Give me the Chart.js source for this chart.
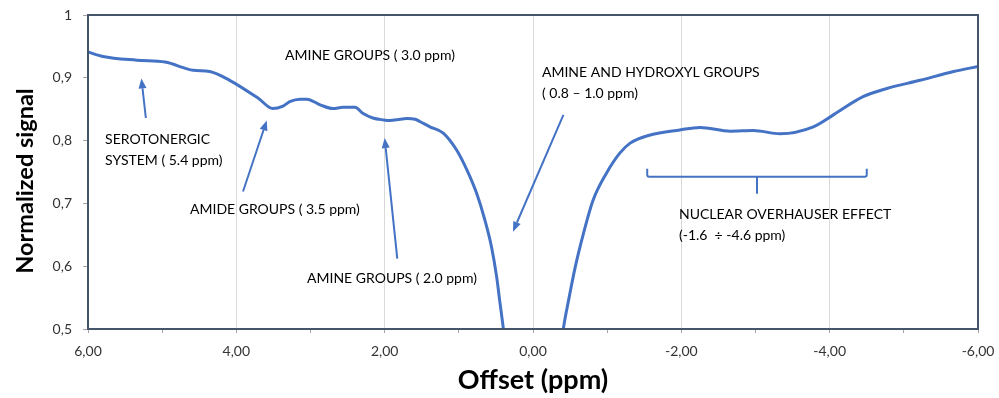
<!DOCTYPE html>
<html>
<head>
<meta charset="utf-8">
<script src="https://cdn.jsdelivr.net/npm/chart.js@4.4.0/dist/chart.umd.min.js"></script>
<style>
  html, body { margin: 0; padding: 0; background: #fff; }
  #wrap { width: 999px; height: 398px; }
</style>
</head>
<body>
<div id="wrap"><canvas id="zChart" width="999" height="398"></canvas></div>
<script>
var offsets = [6.00, 5.80, 5.34, 4.96, 4.58, 4.36, 4.09, 3.70, 3.51, 3.37, 3.28, 3.14, 3.05, 2.87, 2.70, 2.56,
    2.40, 2.29, 2.16, 2.02, 1.93, 1.79, 1.70, 1.59, 1.52, 1.39, 1.21, 1.03, 0.89, 0.76, 0.65, 0.56, 0.49, 0.45,
    0.40, 0.30, 0.00, -0.30, -0.41, -0.48, -0.57, -0.68, -0.81, -0.99, -1.17, -1.31, -1.58, -1.98, -2.25, -2.66,
    -2.97, -3.33, -3.78, -4.05, -4.45, -4.77, -5.22, -5.67, -6.00];
var signal = [0.941, 0.934, 0.928, 0.925, 0.912, 0.910, 0.896, 0.867, 0.851, 0.855, 0.862, 0.866, 0.866, 0.857, 0.851, 0.853,
    0.853, 0.843, 0.836, 0.833, 0.832, 0.834, 0.835, 0.834, 0.830, 0.822, 0.812, 0.785, 0.753, 0.716, 0.674, 0.631, 0.583, 0.546,
    0.501, 0.40, 0.30, 0.40, 0.501, 0.546, 0.599, 0.652, 0.705, 0.748, 0.780, 0.796, 0.809, 0.817, 0.821, 0.815,
    0.816, 0.811, 0.822, 0.841, 0.870, 0.883, 0.896, 0.910, 0.918];

// annotation text, anchored in data units (left edge, middle of first line)
var noteTexts = [
    ['AMINE GROUPS ( 3.0 ppm)'],
    ['AMINE AND HYDROXYL GROUPS', '( 0.8 \u2013 1.0 ppm)'],
    ['SEROTONERGIC', 'SYSTEM ( 5.4 ppm)'],
    ['AMIDE GROUPS ( 3.5 ppm)'],
    ['AMINE GROUPS ( 2.0 ppm)'],
    ['NUCLEAR OVERHAUSER EFFECT', '(-1.6  \u00f7 -4.6 ppm)']
];
var noteX = [3.344, -0.121, 5.77, 4.625, 3.047, -1.968];
var noteY = [0.936, 0.909, 0.801, 0.691, 0.581, 0.682];

// arrows: tail -> head, in data units
var arrowFromX = [5.22, 3.91, 1.83, -0.41];
var arrowFromY = [0.836, 0.719, 0.612, 0.841];
var arrowToX = [5.28, 3.59, 2.00, 0.27];
var arrowToY = [0.899, 0.832, 0.804, 0.655];

// NOE bracket range
var braceFrom = -1.54, braceTo = -4.50, braceY = 0.7425, braceMid = -3.02;

var BLUE = '#4472c4';
var FONT = 'Lato, "Open Sans", sans-serif';

var points = offsets.map(function(x, i) { return { x: x, y: signal[i] }; });

var extras = {
    id: 'extras',
    afterDatasetsDraw: function(chart) {
        var ctx = chart.ctx, xs = chart.scales.x, ys = chart.scales.y;
        ctx.save();
        // text notes
        ctx.fillStyle = '#000';
        ctx.font = '14px ' + FONT;
        ctx.textAlign = 'left';
        ctx.textBaseline = 'middle';
        noteTexts.forEach(function(lines, i) {
            var px = xs.getPixelForValue(noteX[i]);
            var py = ys.getPixelForValue(noteY[i]);
            lines.forEach(function(t, j) { ctx.fillText(t, px, py + j * 21); });
        });
        // arrows
        ctx.strokeStyle = BLUE;
        ctx.fillStyle = BLUE;
        ctx.lineWidth = 2;
        for (var i = 0; i < arrowFromX.length; i++) {
            var x1 = xs.getPixelForValue(arrowFromX[i]), y1 = ys.getPixelForValue(arrowFromY[i]);
            var x2 = xs.getPixelForValue(arrowToX[i]), y2 = ys.getPixelForValue(arrowToY[i]);
            var a = Math.atan2(y2 - y1, x2 - x1);
            var hl = 10, hw = 4;
            var bx = x2 - hl * Math.cos(a), by = y2 - hl * Math.sin(a);
            ctx.beginPath();
            ctx.moveTo(x1, y1);
            ctx.lineTo(bx, by);
            ctx.stroke();
            ctx.beginPath();
            ctx.moveTo(x2, y2);
            ctx.lineTo(bx + hw * Math.sin(a), by - hw * Math.cos(a));
            ctx.lineTo(bx - hw * Math.sin(a), by + hw * Math.cos(a));
            ctx.closePath();
            ctx.fill();
        }
        // bracket
        var bl = xs.getPixelForValue(braceFrom), br = xs.getPixelForValue(braceTo);
        var by0 = ys.getPixelForValue(braceY), bm = xs.getPixelForValue(braceMid);
        ctx.beginPath();
        ctx.moveTo(bl, by0 - 8);
        ctx.lineTo(bl, by0 - 2);
        ctx.quadraticCurveTo(bl, by0, bl + 2, by0);
        ctx.lineTo(br - 2, by0);
        ctx.quadraticCurveTo(br, by0, br, by0 - 2);
        ctx.lineTo(br, by0 - 8);
        ctx.moveTo(bm, by0);
        ctx.lineTo(bm, by0 + 17);
        ctx.stroke();
        ctx.restore();
    },
    afterDraw: function(chart) {
        var ctx = chart.ctx, ca = chart.chartArea;
        ctx.save();
        ctx.strokeStyle = '#44546a';
        ctx.lineWidth = 2;
        ctx.strokeRect(ca.left, ca.top, ca.right - ca.left, ca.bottom - ca.top);
        // axis titles
        ctx.fillStyle = '#000';
        ctx.textAlign = 'center';
        ctx.textBaseline = 'middle';
        ctx.font = 'bold 27px ' + FONT;
        ctx.fillText('Offset (ppm)', (ca.left + ca.right) / 2, 380);
        ctx.font = 'bold 23.5px ' + FONT;
        ctx.translate(25, 181);
        ctx.rotate(-Math.PI / 2);
        ctx.fillText('Normalized signal', 0, 0);
        ctx.restore();
    }
};

new Chart(document.getElementById('zChart').getContext('2d'), {
    type: 'line',
    data: {
        datasets: [{
            data: points,
            borderColor: BLUE,
            borderWidth: 3,
            pointRadius: 0,
            fill: false,
            cubicInterpolationMode: 'monotone'
        }]
    },
    options: {
        responsive: false,
        animation: false,
        devicePixelRatio: 1,
        layout: { padding: { left: 0, top: 15, right: 21, bottom: 0 } },
        plugins: { legend: { display: false }, tooltip: { enabled: false } },
        scales: {
            x: {
                type: 'linear',
                reverse: true,
                min: -6,
                max: 6,
                afterFit: function(s) { s.height = 69; s.paddingLeft = 0; s.paddingRight = 0; },
                border: { display: false },
                grid: {
                    color: function(c) {
                        var v = c.tick ? c.tick.value : 1;
                        return (v % 2 === 0 && Math.abs(v) < 6) ? '#d9d9d9' : 'rgba(0,0,0,0)';
                    },
                    tickColor: '#a6a6a6',
                    tickLength: 4,
                    lineWidth: 1
                },
                ticks: {
                    stepSize: 1,
                    autoSkip: false,
                    maxRotation: 0,
                    padding: 10,
                    color: '#333',
                    font: { family: FONT, size: 14 },
                    callback: function(v) {
                        return (v % 2 === 0) ? Number(v).toFixed(2).replace('.', ',') : '';
                    }
                }
            },
            y: {
                min: 0.5,
                max: 1,
                afterFit: function(s) { s.width = 88; s.paddingTop = 0; s.paddingBottom = 0; },
                border: { display: false },
                grid: { drawOnChartArea: false, tickColor: '#a6a6a6', tickLength: 5 },
                ticks: {
                    stepSize: 0.1,
                    padding: 11,
                    color: '#333',
                    font: { family: FONT, size: 14 },
                    callback: function(v) {
                        var r = Math.round(v * 10) / 10;
                        return r === 1 ? '1' : r.toFixed(1).replace('.', ',');
                    }
                }
            }
        }
    },
    plugins: [extras]
});
</script>
</body>
</html>
